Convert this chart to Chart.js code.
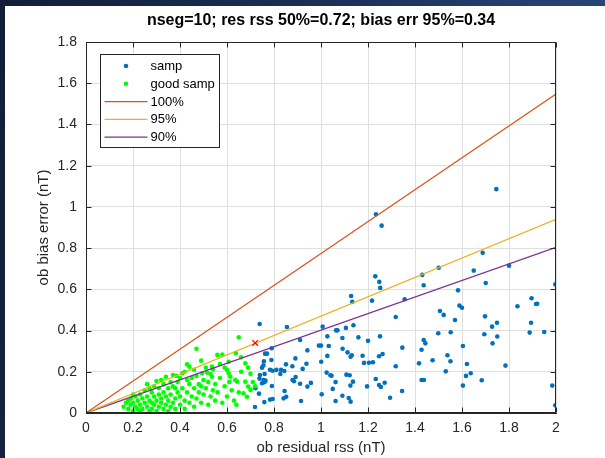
<!DOCTYPE html>
<html>
<head>
<meta charset="utf-8">
<title>ob bias error vs residual rss</title>
<script src="https://cdn.jsdelivr.net/npm/chart.js@4.4.0/dist/chart.umd.min.js"></script>
<style>
body {
    margin: 0;
    width: 605px;
    height: 458px;
    overflow: hidden;
    background: linear-gradient(100deg, #121e38 0%, #1b2e55 45%, #2c4b80 100%);
}
#fig {
    position: absolute;
    left: 5px;
    top: 6px;
    width: 600px;
    height: 452px;
    background: #fff;
}
</style>
</head>
<body>
<div id="fig"><canvas id="chart" width="600" height="452"></canvas></div>
<script>
// axis ticks
let xTicks = [0, 0.2, 0.4, 0.6, 0.8, 1, 1.2, 1.4, 1.6, 1.8, 2];
let yTicks = [0, 0.2, 0.4, 0.6, 0.8, 1, 1.2, 1.4, 1.6, 1.8];

// all segments: [residual rss, bias error]
let sampPts = [
    [1.234, 0.964], [1.258, 0.909], [1.746, 1.086], [1.688, 0.777], [1.80, 0.715], [1.701, 0.631],
    [1.650, 0.691], [1.501, 0.705], [1.431, 0.670], [1.437, 0.620], [1.583, 0.595], [1.231, 0.663],
    [1.248, 0.636], [1.252, 0.607], [1.217, 0.545], [1.128, 0.568], [1.133, 0.539], [1.356, 0.552],
    [1.997, 0.624], [1.836, 0.518], [1.896, 0.557], [1.915, 0.529], [1.92, 0.53], [1.894, 0.438],
    [1.888, 0.390], [1.950, 0.393], [1.698, 0.469], [1.728, 0.419], [1.749, 0.438], [1.695, 0.382],
    [1.750, 0.371], [1.730, 0.338], [1.785, 0.230], [1.684, 0.159], [1.984, 0.133], [1.997, 0.037],
    [1.506, 0.495], [1.522, 0.476], [1.570, 0.451], [1.589, 0.521], [1.600, 0.511], [1.552, 0.392],
    [1.499, 0.387], [1.604, 0.325], [1.538, 0.280], [1.551, 0.251], [1.531, 0.202], [1.621, 0.238],
    [1.617, 0.180], [1.637, 0.193], [1.604, 0.133], [1.475, 0.256], [1.437, 0.354], [1.444, 0.338],
    [1.428, 0.307], [1.417, 0.241], [1.428, 0.160], [1.438, 0.160], [1.346, 0.317], [1.318, 0.466],
    [1.318, 0.227], [1.345, 0.107], [1.294, 0.074], [1.138, 0.426], [1.159, 0.367], [1.106, 0.413],
    [1.064, 0.401], [1.070, 0.401], [1.091, 0.364], [1.027, 0.372], [1.007, 0.419], [1.200, 0.350],
    [1.251, 0.372], [1.092, 0.312], [1.113, 0.294], [1.126, 0.273], [1.131, 0.280], [1.177, 0.278],
    [1.247, 0.275], [1.262, 0.286], [0.991, 0.327], [1.000, 0.327], [1.033, 0.325], [1.027, 0.277],
    [1.001, 0.249], [1.183, 0.243], [1.204, 0.244], [1.221, 0.246], [1.024, 0.196], [1.040, 0.183],
    [1.045, 0.181], [1.062, 0.150], [1.108, 0.186], [1.122, 0.183], [1.136, 0.152], [1.125, 0.133],
    [1.050, 0.117], [1.003, 0.091], [1.062, 0.058], [1.091, 0.084], [1.118, 0.073], [1.126, 0.055],
    [1.196, 0.129], [1.233, 0.165], [1.247, 0.136], [1.255, 0.126], [1.271, 0.147], [0.911, 0.354],
    [0.942, 0.304], [0.938, 0.239], [0.922, 0.214], [0.911, 0.142], [0.942, 0.128], [0.957, 0.146],
    [0.915, 0.058], [0.739, 0.432], [0.855, 0.417], [0.790, 0.314], [0.762, 0.288], [0.770, 0.288],
    [0.757, 0.251], [0.789, 0.257], [0.755, 0.231], [0.749, 0.220], [0.783, 0.210], [0.794, 0.205],
    [0.810, 0.209], [0.830, 0.209], [0.844, 0.204], [0.851, 0.236], [0.878, 0.227], [0.891, 0.265],
    [0.827, 0.189], [0.740, 0.184], [0.760, 0.189], [0.738, 0.167], [0.755, 0.160], [0.764, 0.157],
    [0.749, 0.144], [0.760, 0.150], [0.721, 0.120], [0.736, 0.094], [0.791, 0.131], [0.879, 0.160],
    [0.892, 0.175], [0.885, 0.154], [0.845, 0.107], [0.852, 0.079], [0.841, 0.071], [0.783, 0.065],
    [0.794, 0.068], [0.759, 0.053], [0.719, 0.029]
];

// segments that passed
let goodPts = [
    [0.16, 0.03], [0.17, 0.05], [0.18, 0.02], [0.19, 0.04], [0.19, 0.07], [0.20, 0.01], [0.20, 0.05],
    [0.21, 0.03], [0.21, 0.08], [0.22, 0.02], [0.22, 0.06], [0.23, 0.04], [0.23, 0.09], [0.24, 0.02],
    [0.24, 0.07], [0.25, 0.05], [0.25, 0.11], [0.20, 0.09], [0.18, 0.06], [0.23, 0.01],
    [0.26, 0.03], [0.26, 0.08], [0.27, 0.06], [0.27, 0.12], [0.28, 0.02], [0.28, 0.05], [0.28, 0.10],
    [0.29, 0.04], [0.29, 0.08], [0.30, 0.01], [0.30, 0.06], [0.30, 0.155], [0.31, 0.03], [0.31, 0.09],
    [0.31, 0.12], [0.32, 0.05], [0.32, 0.07], [0.33, 0.02], [0.33, 0.10], [0.33, 0.14], [0.34, 0.04],
    [0.34, 0.08], [0.34, 0.176], [0.35, 0.01], [0.35, 0.06], [0.35, 0.12], [0.26, 0.14], [0.29, 0.13],
    [0.32, 0.16], [0.27, 0.01],
    [0.36, 0.03], [0.36, 0.09], [0.37, 0.05], [0.37, 0.184], [0.37, 0.13], [0.38, 0.07], [0.38, 0.02],
    [0.385, 0.18], [0.39, 0.10], [0.39, 0.15], [0.40, 0.04], [0.40, 0.08], [0.41, 0.193], [0.41, 0.12],
    [0.42, 0.06], [0.42, 0.02], [0.43, 0.236], [0.43, 0.10], [0.44, 0.225], [0.44, 0.14], [0.44, 0.05],
    [0.45, 0.08], [0.45, 0.17], [0.36, 0.15], [0.40, 0.17], [0.43, 0.16], [0.38, 0.12], [0.42, 0.20],
    [0.46, 0.03], [0.46, 0.12], [0.47, 0.312], [0.47, 0.07], [0.47, 0.18], [0.48, 0.10], [0.48, 0.14],
    [0.49, 0.254], [0.49, 0.05], [0.494, 0.193], [0.50, 0.09], [0.50, 0.16], [0.51, 0.12], [0.515, 0.196],
    [0.52, 0.04], [0.52, 0.15], [0.53, 0.189], [0.53, 0.08], [0.536, 0.225], [0.536, 0.176], [0.54, 0.212],
    [0.54, 0.11], [0.55, 0.06], [0.55, 0.14], [0.46, 0.21], [0.51, 0.22], [0.49, 0.13],
    [0.559, 0.282], [0.56, 0.10], [0.57, 0.238], [0.57, 0.17], [0.58, 0.283], [0.58, 0.05], [0.59, 0.13],
    [0.60, 0.209], [0.60, 0.08], [0.607, 0.249], [0.607, 0.193], [0.61, 0.15], [0.614, 0.176], [0.62, 0.11],
    [0.63, 0.06], [0.635, 0.16], [0.638, 0.29], [0.643, 0.152], [0.65, 0.367], [0.65, 0.10], [0.66, 0.27],
    [0.66, 0.20], [0.67, 0.096], [0.678, 0.241], [0.678, 0.152], [0.685, 0.079], [0.69, 0.128], [0.70, 0.112],
    [0.70, 0.19], [0.71, 0.15], [0.72, 0.13], [0.64, 0.04], [0.59, 0.22], [0.69, 0.22]
];

// lines through the origin: bias = slope * rss
let fitNames = ["100%", "95%", "90%"];
let fitSlopes = [0.774, 0.47, 0.402];
let fitColors = ["#D95319", "#EDB120", "#7E2F8E"];

// res rss 50% / bias err 95%
let markRss = 0.72;
let markBias = 0.34;

let titleText = "nseg=10; res rss 50%=0.72; bias err 95%=0.34";
let xLabel = "ob residual rss (nT)";
let yLabel = "ob bias error (nT)";

let axisColor = "#262626";
let fontFam = "'Liberation Sans', Arial, Helvetica, sans-serif";

function toPoints(arr) {
    return arr.map(p => ({ x: p[0], y: p[1] }));
}

let datasets = [];
datasets.push({
    label: "samp",
    data: toPoints(sampPts),
    backgroundColor: "#0072BD",
    borderColor: "#0072BD",
    borderWidth: 0,
    pointRadius: 2.3,
    order: 4
});
datasets.push({
    label: "good samp",
    data: toPoints(goodPts),
    backgroundColor: "#00FF00",
    borderColor: "#00FF00",
    borderWidth: 0,
    pointRadius: 2.3,
    order: 3
});
for (let i = 0; i < fitNames.length; i++) {
    datasets.push({
        label: fitNames[i],
        data: [{ x: 0, y: 0 }, { x: 2, y: 2 * fitSlopes[i] }],
        showLine: true,
        borderColor: fitColors[i],
        borderWidth: 1.2,
        pointRadius: 0,
        order: 1
    });
}
datasets.push({
    label: "mark",
    data: [{ x: markRss, y: markBias }],
    pointStyle: "crossRot",
    pointRadius: 4,
    borderColor: "#FF0000",
    borderWidth: 1.2,
    order: 0
});

// box, inward ticks, legend and title centred over the axes
let boxLegend = {
    id: "boxLegend",
    afterDatasetsDraw(chart) {
        let ctx = chart.ctx;
        let a = chart.chartArea;
        let xs = chart.scales.x;
        let ys = chart.scales.y;
        let L = Math.round(a.left) + 0.5, R = Math.round(a.right) - 0.5;
        let T = Math.round(a.top) + 0.5, B = Math.round(a.bottom) - 0.5;
        ctx.save();
        ctx.strokeStyle = axisColor;
        ctx.lineWidth = 1;
        ctx.strokeRect(L, T, R - L, B - T);

        ctx.beginPath();
        xTicks.forEach(v => {
            let px = Math.round(xs.getPixelForValue(v)) + 0.5;
            ctx.moveTo(px, B); ctx.lineTo(px, B - 5);
            ctx.moveTo(px, T); ctx.lineTo(px, T + 5);
        });
        yTicks.forEach(v => {
            let py = Math.round(ys.getPixelForValue(v)) + 0.5;
            ctx.moveTo(L, py); ctx.lineTo(L + 5, py);
            ctx.moveTo(R, py); ctx.lineTo(R - 5, py);
        });
        ctx.stroke();

        // title
        ctx.fillStyle = "#000";
        ctx.font = "bold 16px " + fontFam;
        ctx.textAlign = "center";
        ctx.textBaseline = "middle";
        ctx.fillText(titleText, (a.left + a.right) / 2, 15);

        // legend
        let lx = Math.round(a.left) + 14.5;
        let ly = Math.round(a.top) + 12.5;
        ctx.fillStyle = "#fff";
        ctx.fillRect(lx, ly, 119, 93);
        ctx.strokeStyle = axisColor;
        ctx.strokeRect(lx, ly, 119, 93);

        let items = [
            { text: "samp", dot: "#0072BD" },
            { text: "good samp", dot: "#00FF00" }
        ];
        for (let i = 0; i < fitNames.length; i++) {
            items.push({ text: fitNames[i], line: fitColors[i] });
        }
        ctx.font = "13px " + fontFam;
        ctx.textAlign = "left";
        items.forEach((it, i) => {
            let y = ly + 11.5 + i * 17.8;
            if (it.dot) {
                ctx.fillStyle = it.dot;
                ctx.beginPath();
                ctx.arc(lx + 25.5, y, 2.3, 0, Math.PI * 2);
                ctx.fill();
            } else {
                ctx.strokeStyle = it.line;
                ctx.lineWidth = 1.2;
                ctx.beginPath();
                ctx.moveTo(lx + 4, y);
                ctx.lineTo(lx + 47, y);
                ctx.stroke();
            }
            ctx.fillStyle = "#000";
            ctx.fillText(it.text, lx + 50, y + 0.5);
        });
        ctx.restore();
    }
};

new Chart("chart", {
    type: "scatter",
    data: { datasets: datasets },
    options: {
        responsive: false,
        animation: false,
        devicePixelRatio: 1,
        events: [],
        layout: { padding: { left: 0, right: 49, top: 36, bottom: 0 } },
        plugins: {
            legend: { display: false },
            tooltip: { enabled: false },
            title: { display: false }
        },
        scales: {
            x: {
                type: "linear",
                min: 0,
                max: 2,
                afterBuildTicks: s => { s.ticks = xTicks.map(v => ({ value: v })); },
                afterFit: s => { s.height = 45; },
                grid: { color: "#dfdfdf", drawTicks: false },
                border: { color: axisColor },
                ticks: {
                    color: axisColor,
                    padding: 7,
                    maxRotation: 0,
                    autoSkip: false,
                    font: { family: fontFam, size: 14 },
                    callback: v => String(v)
                },
                title: {
                    display: true,
                    text: xLabel,
                    color: axisColor,
                    font: { family: fontFam, size: 15 },
                    padding: { top: 0, bottom: 1 }
                }
            },
            y: {
                type: "linear",
                min: 0,
                max: 1.8,
                afterBuildTicks: s => { s.ticks = yTicks.map(v => ({ value: v })); },
                afterFit: s => { s.width = 81; },
                grid: { color: "#dfdfdf", drawTicks: false },
                border: { color: axisColor },
                ticks: {
                    color: axisColor,
                    padding: 9,
                    autoSkip: false,
                    font: { family: fontFam, size: 14 },
                    callback: v => String(v)
                },
                title: {
                    display: true,
                    text: yLabel,
                    color: axisColor,
                    font: { family: fontFam, size: 15 },
                    padding: { top: 30, bottom: 0 }
                }
            }
        }
    },
    plugins: [boxLegend]
});
</script>
</body>
</html>
